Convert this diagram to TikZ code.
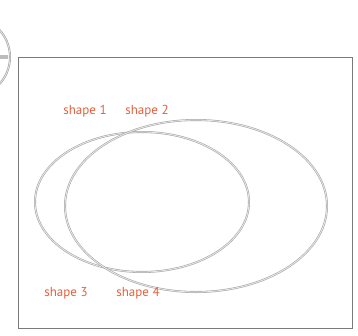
\documentclass[tikz,border=0pt]{standalone}
\usepackage{fontspec}
\setsansfont{PT Sans}
\usetikzlibrary{shapes.geometric}
\definecolor{labred}{HTML}{E5603A}
\definecolor{ringgray}{HTML}{A8A8A8}
\definecolor{framegray}{HTML}{7A7A7A}

\begin{document}
\begin{tikzpicture}[
    x=1pt, y=-1pt,
    ring/.style={
        ellipse, draw=ringgray, line width=0.6pt,
        double=ringgray!25, double distance=0.8pt,
        inner sep=0pt,
    },
    shapelabel/.style={font=\sffamily\fontsize{13}{14}\selectfont, text=labred, inner sep=1pt},
]

% Canvas: same size as the reference
\useasboundingbox (0,0) rectangle (358,335);

% Lens peeking in at the top left
\node[circle, draw=framegray!70, line width=0.6pt, double=framegray!20,
      double distance=0.8pt, minimum size=80pt, inner sep=0pt]
    (lens) at (-30,57) {};
\fill[framegray!50] (-4,55) rectangle (8,59);

% Frame
\node[rectangle, draw=framegray, line width=1.3pt, minimum width=334pt,
      minimum height=271pt, inner sep=0pt, anchor=north west] (frame) at (18,57) {};

% The two rings
\node[ring, minimum width=214pt, minimum height=140pt] (left_ring) at (142,202) {};
\node[ring, minimum width=262pt, minimum height=172pt] (right_ring) at (196,206) {};

% Labels
\node[shapelabel] (shape1) at (85,111) {shape 1};
\node[shapelabel] (shape2) at (147,111) {shape 2};
\node[shapelabel] (shape3) at (66,293) {shape 3};
\node[shapelabel] (shape4) at (138,293) {shape 4};

\end{tikzpicture}
\end{document}
